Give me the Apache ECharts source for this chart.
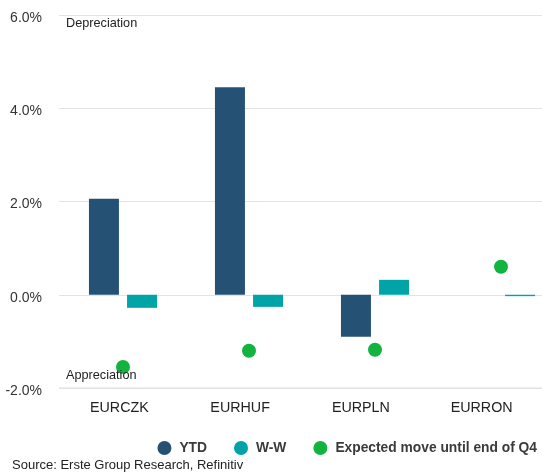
<!DOCTYPE html>
<html>
<head>
<meta charset="utf-8">
<script src="https://cdn.jsdelivr.net/npm/echarts@6/dist/echarts.min.js"></script>
<style>
  html, body { margin: 0; padding: 0; background: #fff; }
  #chart { width: 542px; height: 472px; }
</style>
</head>
<body>
<div id="chart"></div>
<script>
// categories and values (in %)
var pairs = ['EURCZK', 'EURHUF', 'EURPLN', 'EURRON'];
var ytd = [2.06, 4.45, -0.90, 0];
var weekly = [-0.28, -0.26, 0.32, -0.03];
var expected = [-1.55, -1.20, -1.18, 0.60];

var font = 'Liberation Sans, Arial, sans-serif';
var chart = echarts.init(document.getElementById('chart'));

// grid 0 carries the visible axes, grid 1 the marks (the source tool
// placed the bars slightly right of the category labels)
chart.setOption({
    backgroundColor: '#fff',
    textStyle: { fontFamily: font },
    grid: [{
        left: 59,
        width: 483,
        top: 15,
        height: 373,
        outerBoundsMode: 'none'
    }, {
        left: 60,
        width: 504,
        top: 15,
        height: 373,
        outerBoundsMode: 'none'
    }],
    legend: {
        right: 0,
        top: 436,
        itemWidth: 14,
        itemHeight: 14,
        itemGap: 27,
        icon: 'circle',
        itemStyle: { borderWidth: 0 },
        textStyle: { fontSize: 13.8, fontWeight: 'bold', color: '#3a3a3a', padding: [0, 0, 0, 3] },
        data: ['YTD', 'W-W', 'Expected move until end of Q4']
    },
    xAxis: [{
        type: 'category',
        gridIndex: 0,
        data: pairs,
        axisLine: { show: false },
        axisTick: { show: false },
        axisLabel: { fontSize: 14.3, color: '#222', margin: 13 }
    }, {
        type: 'category',
        gridIndex: 1,
        data: pairs,
        show: false
    }],
    yAxis: [{
        type: 'value',
        gridIndex: 0,
        min: -2,
        max: 6,
        interval: 2,
        axisLine: { show: false },
        axisTick: { show: false },
        axisLabel: {
            fontSize: 14,
            color: '#333',
            margin: 17,
            verticalAlign: 'top',
            lineHeight: 6,
            formatter: function (v) { return v.toFixed(1) + '%'; }
        },
        splitLine: { lineStyle: { color: '#e3e3e3', width: 1 } }
    }, {
        type: 'value',
        gridIndex: 1,
        min: -2,
        max: 6,
        interval: 2,
        show: false,
        splitLine: { show: false }
    }],
    series: [{
        name: 'YTD',
        type: 'bar',
        xAxisIndex: 1,
        yAxisIndex: 1,
        data: ytd,
        barWidth: 30,
        barGap: '27%',
        itemStyle: { color: '#255274' }
    }, {
        name: 'W-W',
        type: 'bar',
        xAxisIndex: 1,
        yAxisIndex: 1,
        data: weekly,
        barWidth: 30,
        itemStyle: { color: '#00a4a6' }
    }, {
        name: 'Expected move until end of Q4',
        type: 'scatter',
        xAxisIndex: 1,
        yAxisIndex: 1,
        data: expected,
        symbol: 'circle',
        symbolSize: 14,
        itemStyle: { color: '#12b43f', opacity: 1 },
        z: 5
    }],
    graphic: [{
        type: 'text',
        left: 66,
        top: 17,
        style: { text: 'Depreciation', fontSize: 12.7, fill: '#222', fontFamily: font }
    }, {
        type: 'text',
        left: 66,
        top: 369,
        z: 10,
        style: { text: 'Appreciation', fontSize: 12.7, fill: '#222', fontFamily: font }
    }, {
        type: 'line',
        shape: { x1: 59, y1: 388, x2: 542, y2: 388 },
        style: { stroke: '#d6dff0', lineWidth: 1 }
    }, {
        type: 'text',
        left: 12,
        top: 459,
        style: { text: 'Source: Erste Group Research, Refinitiv', fontSize: 13, fill: '#222', fontFamily: font }
    }]
});
</script>
</body>
</html>
